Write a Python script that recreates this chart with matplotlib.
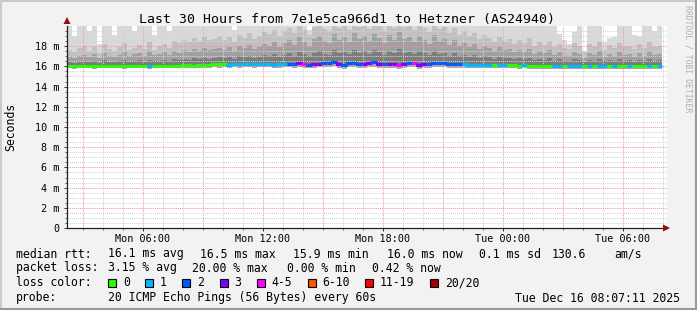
"""
SmokePing style latency chart: last 30 hours, 7e1e5ca966d1 -> Hetzner.
"""

import numpy as np
import matplotlib
matplotlib.use('Agg')
import matplotlib.pyplot as plt
from matplotlib.collections import LineCollection
from matplotlib.patches import Rectangle, Polygon
from matplotlib.lines import Line2D

plt.rcParams['font.family'] = 'DejaVu Sans Mono'

W, H = 697, 310
START_H = 2.2      # Mon 02:12 (hours since Mon 00:00)
BIN_H = 0.25       # 15 min per bin

# median rtt (ms) per bin
median = [
    16.0, 16.0, 16.0, 16.0, 16.05, 16.0, 16.0, 16.0, 16.05, 16.0,
    16.0, 16.0, 16.0, 16.05, 16.0, 16.0, 16.0, 16.05, 16.0, 16.0,
    16.05, 16.0, 16.0, 16.1, 16.1, 16.05, 16.1, 16.1, 16.1, 16.2,
    16.2, 16.2, 16.15, 16.2, 16.2, 16.25, 16.2, 16.2, 16.2, 16.2,
    16.2, 16.15, 16.2, 16.2, 16.25, 16.2, 16.3, 16.2, 16.15, 16.2,
    16.25, 16.3, 16.35, 16.4, 16.2, 16.1, 16.35, 16.3, 16.25, 16.2,
    16.3, 16.4, 16.25, 16.2, 16.2, 16.25, 16.1, 16.2, 16.3, 16.35,
    16.1, 16.2, 16.25, 16.3, 16.35, 16.3, 16.2, 16.2, 16.25, 16.2,
    16.15, 16.1, 16.15, 16.15, 16.15, 16.15, 16.1, 16.1, 16.1, 16.1,
    16.05, 16.1, 16.05, 16.05, 16.0, 16.05, 16.0, 16.0, 16.0, 16.0,
    16.0, 16.0, 16.05, 16.0, 16.0, 16.0, 16.05, 16.0, 16.0, 16.0,
    16.0, 16.05, 16.0, 16.0, 16.0, 16.0, 16.05, 16.0, 16.0,
]

# lost pings (of 20) per bin
loss = [
    0, 0, 0, 0, 0, 0, 0, 0, 0, 0,
    0, 0, 0, 0, 0, 0, 1, 0, 0, 0,
    0, 0, 0, 0, 0, 0, 0, 0, 0, 0,
    0, 0, 1, 1, 1, 1, 1, 1, 1, 1,
    1, 1, 1, 1, 2, 2, 3, 4, 2, 3,
    3, 2, 2, 2, 3, 2, 2, 2, 2, 3,
    3, 2, 3, 2, 3, 3, 4, 3, 2, 4,
    3, 3, 2, 2, 2, 2, 2, 2, 2, 1,
    1, 1, 1, 1, 1, 0, 1, 1, 0, 0,
    0, 1, 0, 0, 0, 0, 0, 1, 1, 0,
    1, 1, 1, 0, 1, 0, 1, 1, 0, 1,
    0, 0, 1, 0, 0, 0, 1, 0, 1,
]

# smoke: slowest ping and upper quantile boundaries (ms)
smoke_top = [
    21, 19.0, 21, 21, 19.5, 21, 18.2, 21, 21, 19.1,
    21, 21, 21, 19.5, 21, 21, 21, 19.1, 21, 21,
    19.5, 21, 21, 21, 21, 21, 21, 21, 21, 21,
    21, 21, 21, 19.6, 21, 21, 21, 21, 21, 21,
    21, 21, 21, 21, 21, 21, 21, 21, 19.6, 21,
    21, 21, 21, 21, 21, 21, 21, 21, 21, 21,
    21, 21, 21, 21, 21, 21, 21, 21, 21, 21,
    21, 21, 21, 21, 21, 21, 21, 21, 21, 21,
    21, 21, 21, 21, 21, 21, 21, 21, 21, 21,
    21, 21, 21, 21, 21, 21, 21, 21, 19.2, 18.6,
    18.2, 19.4, 21, 17.5, 21, 21, 21, 18.4, 18.8, 18.9,
    21, 21, 21, 19.1, 19.0, 21, 21, 19.5, 21,
]
smoke_u3 = [
    17.6, 17.4, 17.8, 18.0, 17.5, 17.9, 17.3, 18.2, 17.7, 17.5,
    17.9, 18.3, 17.6, 17.8, 18.1, 17.7, 18.4, 17.6, 18.0, 18.2,
    17.8, 18.5, 18.3, 18.6, 18.4, 18.8, 18.5, 18.9, 18.6, 18.7,
    19.0, 18.6, 18.9, 18.4, 19.1, 18.8, 19.3, 18.7, 19.0, 19.4,
    19.2, 19.6, 19.0, 19.5, 19.8, 19.3, 20.2, 19.6, 19.1, 19.9,
    20.3, 19.7, 19.5, 20.4, 19.8, 20.1, 19.6, 20.5, 19.9, 20.2,
    19.7, 20.4, 20.0, 19.5, 20.3, 19.8, 20.6, 19.9, 20.1, 19.6,
    20.2, 19.8, 19.4, 20.3, 19.7, 19.9, 19.3, 19.8, 19.1, 19.5,
    19.0, 19.3, 18.7, 19.1, 18.8, 18.4, 18.9, 18.5, 18.7, 18.2,
    18.6, 18.3, 18.8, 18.0, 18.4, 18.1, 18.5, 17.9, 18.2, 17.8,
    17.7, 18.3, 18.0, 17.4, 18.2, 17.9, 18.4, 17.6, 18.1, 17.8,
    18.3, 17.9, 18.0, 17.7, 18.2, 17.8, 18.4, 17.9, 18.0,
]
smoke_u2 = [
    16.9, 16.8, 17.0, 17.1, 16.9, 17.2, 16.8, 17.3, 17.0, 16.9,
    17.1, 17.4, 17.0, 17.2, 17.3, 17.0, 17.5, 17.1, 17.2, 17.4,
    17.1, 17.5, 17.3, 17.6, 17.4, 17.7, 17.5, 17.8, 17.6, 17.7,
    17.8, 17.6, 17.9, 17.5, 18.0, 17.8, 18.1, 17.7, 17.9, 18.2,
    18.0, 18.4, 17.9, 18.3, 18.6, 18.1, 18.9, 18.4, 18.0, 18.7,
    19.0, 18.5, 18.3, 19.2, 18.6, 18.9, 18.4, 19.3, 18.7, 19.0,
    18.5, 19.2, 18.8, 18.3, 19.1, 18.6, 19.4, 18.7, 18.9, 18.4,
    19.0, 18.6, 18.2, 19.1, 18.5, 18.7, 18.1, 18.6, 18.0, 18.3,
    17.9, 18.2, 17.7, 18.0, 17.8, 17.5, 17.9, 17.6, 17.7, 17.4,
    17.6, 17.4, 17.7, 17.2, 17.5, 17.3, 17.6, 17.1, 17.4, 17.0,
    17.0, 17.4, 17.2, 16.8, 17.3, 17.1, 17.5, 16.9, 17.2, 17.0,
    17.4, 17.1, 17.2, 16.9, 17.3, 17.0, 17.5, 17.1, 17.2,
]
smoke_u1 = [
    16.4, 16.35, 16.45, 16.5, 16.4, 16.55, 16.35, 16.6, 16.45, 16.4,
    16.5, 16.6, 16.45, 16.5, 16.6, 16.45, 16.65, 16.5, 16.55, 16.6,
    16.5, 16.7, 16.6, 16.75, 16.65, 16.8, 16.7, 16.85, 16.75, 16.8,
    16.9, 16.8, 16.95, 16.75, 17.0, 16.9, 17.05, 16.85, 16.95, 17.1,
    17.0, 17.2, 16.95, 17.15, 17.3, 17.05, 17.4, 17.2, 17.0, 17.35,
    17.5, 17.25, 17.15, 17.6, 17.3, 17.45, 17.2, 17.65, 17.35, 17.5,
    17.25, 17.6, 17.4, 17.15, 17.55, 17.3, 17.7, 17.35, 17.45, 17.2,
    17.5, 17.3, 17.1, 17.55, 17.25, 17.35, 17.05, 17.3, 17.0, 17.15,
    16.95, 17.1, 16.85, 17.0, 16.9, 16.75, 16.95, 16.8, 16.85, 16.7,
    16.8, 16.7, 16.85, 16.6, 16.75, 16.65, 16.8, 16.55, 16.7, 16.5,
    16.5, 16.7, 16.6, 16.45, 16.65, 16.55, 16.75, 16.5, 16.6, 16.5,
    16.7, 16.55, 16.6, 16.45, 16.65, 16.5, 16.75, 16.55, 16.6,
]
# fastest ping (ms)
smoke_low = [
    15.8, 15.78, 15.8, 15.8, 15.82, 15.78, 15.8, 15.8, 15.82, 15.8,
    15.8, 15.78, 15.8, 15.82, 15.8, 15.8, 15.78, 15.82, 15.8, 15.8,
    15.82, 15.8, 15.8, 15.85, 15.85, 15.82, 15.85, 15.85, 15.85, 15.9,
    15.88, 15.9, 15.86, 15.9, 15.88, 15.92, 15.9, 15.88, 15.9, 15.9,
    15.9, 15.86, 15.88, 15.9, 15.9, 15.85, 15.92, 15.85, 15.8, 15.85,
    15.9, 15.92, 15.95, 16.0, 15.85, 15.78, 15.95, 15.9, 15.88, 15.85,
    15.9, 15.95, 15.88, 15.85, 15.85, 15.88, 15.78, 15.85, 15.9, 15.95,
    15.78, 15.85, 15.88, 15.9, 15.95, 15.9, 15.85, 15.85, 15.88, 15.85,
    15.82, 15.8, 15.82, 15.82, 15.82, 15.82, 15.8, 15.8, 15.8, 15.8,
    15.78, 15.8, 15.78, 15.78, 15.75, 15.78, 15.75, 15.75, 15.75, 15.75,
    15.75, 15.75, 15.78, 15.75, 15.75, 15.75, 15.78, 15.75, 15.75, 15.75,
    15.75, 15.78, 15.75, 15.75, 15.75, 15.75, 15.78, 15.75, 15.75,
]

loss_labels = ['0', '1', '2', '3', '4-5', '6-10', '11-19', '20/20']
loss_upper = [0, 1, 2, 3, 5, 10, 19, 20]
loss_cols = ['#26ff00', '#00b8ff', '#0059ff', '#7e00ff', '#ff00ff',
             '#ff5500', '#ff0000', '#a10000']

xtick_pos = [6, 12, 18, 24, 30]
xtick_labels = ['Mon 06:00', 'Mon 12:00', 'Mon 18:00', 'Tue 00:00', 'Tue 06:00']
ytick_pos = list(range(0, 20, 2))
ytick_labels = ['0'] + ['%d m' % v for v in ytick_pos[1:]]

rtt_items = ['16.1 ms avg', '16.5 ms max', '15.9 ms min', '16.0 ms now',
             '0.1 ms sd', '130.6', 'am/s']
loss_items = ['3.15 % avg', '20.00 % max', '0.00 % min', '0.42 % now']


def loss_color(n):
    for up, c in zip(loss_upper, loss_cols):
        if n <= up:
            return c
    return loss_cols[-1]


def fx(px):
    return px / W


def fy(py):
    return 1 - py / H


fig = plt.figure(figsize=(W / 100, H / 100), dpi=100, facecolor='#f2f2f2')

# frame shading
fig.add_artist(Line2D([0, 1], [fy(0.5), fy(0.5)], color='#cbcbcb', lw=1.5))
fig.add_artist(Line2D([fx(0.5), fx(0.5)], [0, 1], color='#cbcbcb', lw=1.5))
fig.add_artist(Line2D([0, 1], [fy(309), fy(309)], color='#999999', lw=1.5))
fig.add_artist(Line2D([fx(696), fx(696)], [0, 1], color='#999999', lw=1.5))

ax = fig.add_axes([fx(67), fy(228), 600 / W, 202 / H])
ax.set_facecolor('white')
ax.set_xlim(START_H, START_H + 30)
ax.set_ylim(0, 20)

n = len(median)
edges = START_H + BIN_H * np.arange(n + 1)


def stepv(a):
    a = np.asarray(a, dtype=float)
    return np.append(a, a[-1])


med = stepv(median)
# smoke layers, outer to inner
ax.fill_between(edges, med, stepv(smoke_top), step='post', color='#d9d9d9', lw=0, zorder=1)
ax.fill_between(edges, med, stepv(smoke_u3), step='post', color='#c0c0c0', lw=0, zorder=1)
ax.fill_between(edges, med, stepv(smoke_u2), step='post', color='#a0a0a0', lw=0, zorder=1)
ax.fill_between(edges, med, stepv(smoke_u1), step='post', color='#7c7c7c', lw=0, zorder=1)
ax.fill_between(edges, stepv(smoke_low), med, step='post', color='#a8a8a8', lw=0, zorder=1)

# grid
dots = (0, (1, 1))
for h in range(3, 33):
    major = h % 3 == 0
    ax.axvline(h, color='#f09a9a' if major else '#d4d4d4', lw=0.75,
               ls=dots, zorder=3)
for v in np.arange(0.5, 20, 0.5):
    major = abs(v % 2) < 1e-9
    ax.axhline(v, color='#f09a9a' if major else '#d4d4d4', lw=0.75,
               ls=dots, zorder=3)

# median line coloured by loss
segs, cols = [], []
for i in range(n):
    pts = []
    if i > 0:
        pts.append((edges[i], median[i - 1]))
    pts += [(edges[i], median[i]), (edges[i + 1], median[i])]
    segs.append(pts)
    cols.append(loss_color(loss[i]))
ax.add_collection(LineCollection(segs, colors=cols, linewidths=2.2,
                                 capstyle='butt', joinstyle='miter', zorder=5))

# axes
for s in ['top', 'right']:
    ax.spines[s].set_visible(False)
for s in ['left', 'bottom']:
    ax.spines[s].set_color('#222222')
    ax.spines[s].set_linewidth(0.9)
    ax.spines[s].set_zorder(6)

ax.set_xticks(xtick_pos)
ax.set_xticklabels(xtick_labels)
ax.set_xticks(range(3, 33), minor=True)
ax.set_yticks(ytick_pos)
ax.set_yticklabels(ytick_labels)
ax.set_yticks(np.arange(0.5, 20, 0.5), minor=True)
ax.tick_params(axis='both', which='major', labelsize=7.3, length=2.5,
               width=0.7, color='#333333', pad=3)
ax.tick_params(axis='x', which='major', pad=2)
ax.tick_params(axis='both', which='minor', length=1.5, width=0.6, color='#555555')

# arrows
fig.add_artist(Polygon([(fx(663), fy(224.5)), (fx(663), fy(231.5)), (fx(670), fy(228))],
                       closed=True, color='#8b1010', lw=0))
fig.add_artist(Polygon([(fx(63.5), fy(24)), (fx(70.5), fy(24)), (fx(67), fy(17))],
                       closed=True, color='#8b1010', lw=0))

# titles
fig.text(fx(347), fy(19), 'Last 30 Hours from 7e1e5ca966d1 to Hetzner (AS24940)',
         ha='center', va='center', fontsize=9.5)
fig.text(fx(11), fy(127), 'Seconds', rotation=90, ha='center', va='center', fontsize=8.3)
fig.text(fx(688), fy(59), 'RRDTOOL / TOBI OETIKER', rotation=270, ha='center',
         va='center', fontsize=5.9, color='#b0b0b0')

# legend
LS = 8.3
rows_y = [254, 268, 283, 298]
fig.text(fx(16), fy(rows_y[0]), 'median rtt:', va='center', fontsize=LS)
for txt, x in zip(rtt_items, [107.5, 200, 293, 387, 479, 552, 614]):
    fig.text(fx(x), fy(rows_y[0]), txt, va='center', fontsize=LS)

fig.text(fx(16), fy(rows_y[1]), 'packet loss:', va='center', fontsize=LS)
for txt, x in zip(loss_items, [107.5, 192.5, 287, 372.5]):
    fig.text(fx(x), fy(rows_y[1]), txt, va='center', fontsize=LS)

fig.text(fx(16), fy(rows_y[2]), 'loss color:', va='center', fontsize=LS)
for lab, c, x in zip(loss_labels, loss_cols, [108, 145, 182, 219.5, 256.5, 307.5, 365, 430]):
    fig.add_artist(Rectangle((fx(x), fy(rows_y[2] + 4)), 8 / W, 8 / H,
                             facecolor=c, edgecolor='black', lw=0.8))
    fig.text(fx(x + 15), fy(rows_y[2]), lab, va='center', fontsize=LS)

fig.text(fx(16), fy(rows_y[3]), 'probe:', va='center', fontsize=LS)
fig.text(fx(107.5), fy(rows_y[3]), '20 ICMP Echo Pings (56 Bytes) every 60s',
         va='center', fontsize=LS)
fig.text(fx(680), fy(rows_y[3]), 'Tue Dec 16 08:07:11 2025', ha='right',
         va='center', fontsize=LS)

plt.savefig('out.png', dpi=100, facecolor=fig.get_facecolor())
print("Saved out.png")
